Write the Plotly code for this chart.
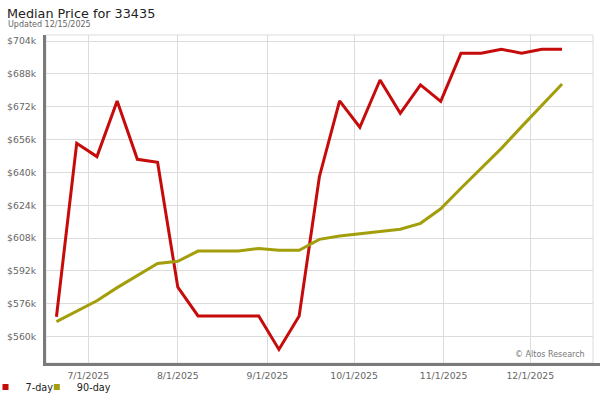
import plotly.graph_objects as go

dates = ["2025-06-20", "2025-06-27", "2025-07-04", "2025-07-11", "2025-07-18",
         "2025-07-25", "2025-08-01", "2025-08-08", "2025-08-15", "2025-08-22",
         "2025-08-29", "2025-09-05", "2025-09-12", "2025-09-19", "2025-09-26",
         "2025-10-03", "2025-10-10", "2025-10-17", "2025-10-24", "2025-10-31",
         "2025-11-07", "2025-11-14", "2025-11-21", "2025-11-28", "2025-12-05",
         "2025-12-12"]

price_7day = [569700, 654200, 647700, 674800, 646400, 644900, 584100, 570100,
              570100, 570100, 570100, 553800, 570100, 637900, 674800, 662000,
              685000, 668800, 682600, 674600, 698000, 698000, 700000, 698000,
              700000, 700000]

price_90day = [567300, 572500, 577500, 583900, 589700, 595700, 596700, 601700,
               601700, 601700, 603000, 602100, 602100, 607400, 609000, 610000,
               611000, 612300, 615200, 622300, 632300, 642000, 651700, 662300,
               672800, 683100]

x_tick_vals = ["2025-07-01", "2025-08-01", "2025-09-01", "2025-10-01",
               "2025-11-01", "2025-12-01"]
x_tick_text = ["7/1/2025", "8/1/2025", "9/1/2025", "10/1/2025", "11/1/2025",
               "12/1/2025"]

y_tick_vals = [560000, 576000, 592000, 608000, 624000, 640000, 656000, 672000,
               688000, 704000]
y_tick_text = ["$560k", "$576k", "$592k", "$608k", "$624k", "$640k", "$656k",
               "$672k", "$688k", "$704k"]

RED = "#c60b0b"
OLIVE = "#a39e0b"
FONT = "DejaVu Sans"

fig = go.Figure()
fig.add_trace(go.Scatter(x=dates, y=price_7day, mode="lines", name="7-day",
                         line=dict(color=RED, width=3), showlegend=False))
fig.add_trace(go.Scatter(x=dates, y=price_90day, mode="lines", name="90-day",
                         line=dict(color=OLIVE, width=3), showlegend=False))
# legend entries (square swatches), one per legend box for tight spacing
fig.add_trace(go.Scatter(x=[None], y=[None], mode="markers", name="7-day",
                         legend="legend",
                         marker=dict(symbol="square", size=6, color=RED)))
fig.add_trace(go.Scatter(x=[None], y=[None], mode="markers", name="90-day",
                         legend="legend2",
                         marker=dict(symbol="square", size=6, color=OLIVE)))

legend_common = dict(orientation="h", xanchor="left", y=-0.0732,
                     yanchor="middle", font=dict(size=9.7, color="#222222"),
                     bgcolor="rgba(0,0,0,0)")

fig.update_layout(
    width=600, height=400,
    margin=dict(l=46, r=7, t=35, b=37, autoexpand=False),
    paper_bgcolor="white", plot_bgcolor="white",
    font=dict(family=FONT, color="#666666", size=9.3),
    title=dict(text="Median Price for 33435", x=7 / 600, xref="container",
               xanchor="left", y=1 - 13.5 / 400, yref="container",
               yanchor="middle", pad=dict(l=0, r=0, t=0, b=0),
               font=dict(size=12.8, color="#222222", family=FONT)),
    showlegend=True,
    legend=dict(x=-0.1106, **legend_common),
    legend2=dict(x=-0.0168, **legend_common),
    xaxis=dict(type="date", range=["2025-06-16 09:00", "2025-12-22 17:00"],
               tickvals=x_tick_vals, ticktext=x_tick_text, automargin=False,
               showgrid=True, gridcolor="#dcdcdc", gridwidth=1,
               showline=True, linecolor="#7a7a7a", linewidth=3,
               ticks="", zeroline=False, ticklabelstandoff=2,
               tickfont=dict(size=9.3, color="#666666")),
    yaxis=dict(range=[547190, 706920], tickvals=y_tick_vals, ticktext=y_tick_text,
               showgrid=True, gridcolor="#dcdcdc", gridwidth=1, automargin=False,
               showline=True, linecolor="#7a7a7a", linewidth=3,
               ticks="", zeroline=False, ticklabelstandoff=5,
               tickfont=dict(size=9.3, color="#666666")),
    shapes=[
        dict(type="rect", xref="paper", yref="paper", x0=0, x1=1, y0=0, y1=1,
             line=dict(color="#dcdcdc", width=1), layer="below"),
        dict(type="line", xref="paper", yref="paper", x0=0.99, x1=1.02,
             y0=-0.0045, y1=-0.0045, line=dict(color="#7a7a7a", width=3)),
    ],
    annotations=[
        dict(text="Updated 12/15/2025", xref="paper", yref="paper",
             x=(6 - 46) / 547, y=(363 - 24.3) / 328, xanchor="left",
             yanchor="middle", showarrow=False,
             font=dict(size=8, color="#666666", family=FONT)),
        dict(text="© Altos Research", xref="paper", yref="paper",
             x=(587 - 46) / 547, y=(363 - 354) / 328, xanchor="right",
             yanchor="middle", showarrow=False,
             font=dict(size=8, color="#777777", family=FONT)),
    ],
)

fig.write_html("out.html", config={"displayModeBar": False},
               post_script="document.body.style.margin='0';"
                           "document.body.style.overflow='hidden';")
